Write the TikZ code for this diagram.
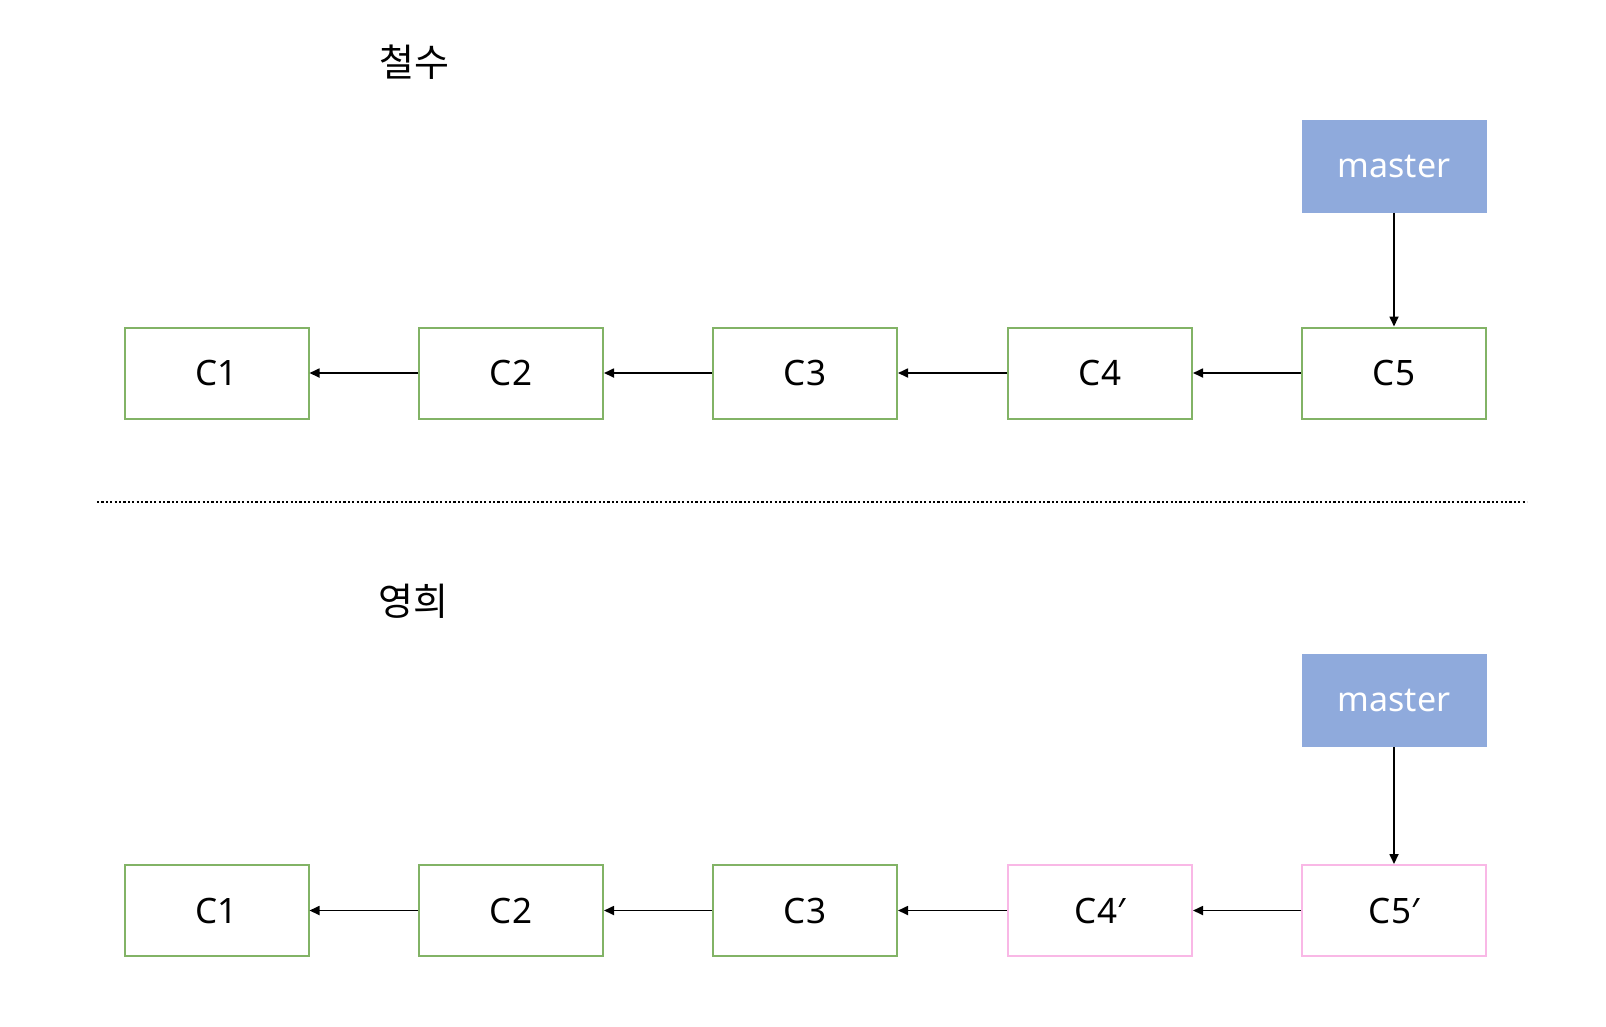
\documentclass[tikz,border=0pt]{standalone}
\usepackage{fontspec}
\setmainfont{Noto Sans}
\newfontfamily\krfont{Noto Sans CJK KR}
\usetikzlibrary{arrows.meta}
\definecolor{cgreen}{HTML}{82B366}
\definecolor{cpink}{HTML}{F9B8E6}
\definecolor{cblue}{HTML}{8FAADC}
\begin{document}
\begin{tikzpicture}[x=1pt,y=-1pt,
  commit/.style={draw=cgreen, line width=2pt, fill=white, minimum width=184pt, minimum height=91pt, inner sep=0pt, font=\fontsize{35}{40}\selectfont},
  newcommit/.style={commit, draw=cpink},
  branch/.style={fill=cblue, text=white, minimum width=185pt, minimum height=93pt, inner sep=0pt, font=\fontsize{34}{40}\selectfont},
  title/.style={font=\krfont\fontsize{38}{42}\selectfont, inner sep=0pt},
  link/.style={line width=1.7pt, -{Triangle[length=10pt,width=9pt]}},
  sep/.style={line width=2pt, dash pattern=on 2.2pt off 2.2pt}
]
\useasboundingbox (0,0) rectangle (1606,1026);

% top: 철수
\node[title] (t1) at (414,62) {철수};
\node[commit] (a1) at (216.5,373) {C1};
\node[commit] (a2) at (511,373) {C2};
\node[commit] (a3) at (805,373) {C3};
\node[commit] (a4) at (1100,373) {C4};
\node[commit] (a5) at (1394,373) {C5};
\node[branch] (am) at (1394,166) {master};
\draw[link] (a2) -- (a1);
\draw[link] (a3) -- (a2);
\draw[link] (a4) -- (a3);
\draw[link] (a5) -- (a4);
\draw[link] (am) -- (a5);

% separator
\coordinate (sl) at (97,502);
\coordinate (sr) at (1527,502);
\draw[sep] (sl) -- (sr);

% bottom: 영희
\node[title] (t2) at (413,601) {영희};
\node[commit] (b1) at (216.5,910.5) {C1};
\node[commit] (b2) at (511,910.5) {C2};
\node[commit] (b3) at (805,910.5) {C3};
\node[newcommit] (b4) at (1100,910.5) {C4′};
\node[newcommit] (b5) at (1394,910.5) {C5′};
\node[branch] (bm) at (1394,700.5) {master};
\draw[link] (b2) -- (b1);
\draw[link] (b3) -- (b2);
\draw[link] (b4) -- (b3);
\draw[link] (b5) -- (b4);
\draw[link] (bm) -- (b5);
\end{tikzpicture}
\end{document}
